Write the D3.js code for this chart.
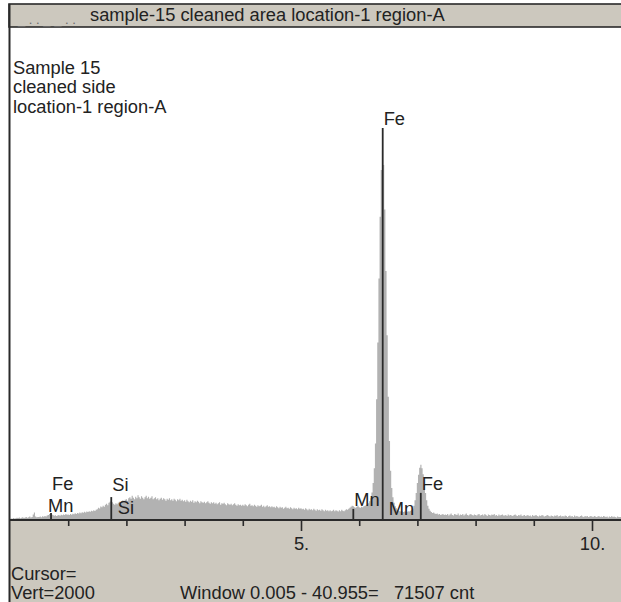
<!DOCTYPE html>
<html>
<head>
<meta charset="utf-8">
<script src="https://cdn.jsdelivr.net/npm/d3@7"></script>
<style>
  body { margin: 0; background: #fff; }
  svg { display: block; font-family: "Liberation Sans", Arial, sans-serif; }
</style>
</head>
<body>
<svg width="621" height="602"></svg>
<script>
// spectrum, counts per 0.02 keV channel starting at 0 keV
const channelWidth = 0.02;
const counts = [
  4,6,5,8,6,7,9,8,10,7,9,11,8,10,12,9,11,14,10,12,22,30,14,11,12,
  12,14,11,15,13,16,14,18,20,24,26,22,20,17,19,16,18,20,17,21,19,22,20,24,21,
  22,20,24,21,25,23,27,24,28,26,30,27,31,29,33,30,34,32,36,33,38,35,40,37,42,
  44,50,47,55,52,58,54,62,66,60,70,74,78,72,66,62,68,64,70,74,68,76,80,74,82,
  84,78,88,92,86,98,90,84,94,88,100,92,86,96,90,84,92,98,88,94,86,90,96,84,88,
  92,84,88,80,86,90,82,88,84,78,86,82,88,80,84,78,86,82,76,84,80,86,78,82,76,
  80,74,82,76,72,78,74,80,70,76,72,78,74,68,76,72,70,74,68,72,76,70,66,72,68,
  72,66,70,64,68,72,62,68,66,70,64,60,68,64,62,66,60,64,68,62,58,64,60,62,58,
  62,58,64,60,56,62,66,58,60,56,62,58,54,60,56,58,62,54,58,52,56,60,54,56,52,
  56,52,54,50,56,52,48,54,50,52,46,50,54,48,50,46,52,48,44,50,46,48,44,50,46,
  48,44,46,42,48,44,40,46,42,44,40,46,42,38,44,40,42,38,44,40,36,42,38,40,36,
  40,36,38,42,36,40,38,34,40,36,42,38,36,40,44,42,46,50,54,58,56,52,50,54,58,
  52,50,54,52,56,58,60,64,68,76,88,112,150,210,310,490,720,980,1230,1420,1500,1440,1260,1010,750,
  500,320,200,130,92,70,56,48,42,38,36,34,36,32,34,34,32,36,34,38,40,46,58,80,110,
  150,184,212,224,210,186,146,110,80,58,46,38,32,28,30,26,24,26,22,24,20,22,24,20,22,
  20,24,18,22,26,20,18,24,22,20,26,18,22,20,24,18,22,26,20,18,22,24,20,18,22,
  20,18,22,24,18,20,22,18,24,20,16,22,20,18,22,20,24,18,20,16,22,18,20,22,18,
  18,20,16,22,18,20,18,16,20,22,18,16,20,18,22,16,18,20,16,18,20,16,18,14,20,
  16,18,20,16,14,18,16,20,18,14,16,18,20,16,14,18,16,14,18,16,20,14,16,18,14,
  16,14,18,16,12,16,18,14,16,12,18,14,16,14,12,16,18,14,12,16,14,16,12,14,16,
  14,12,16,14,12,14,16,12,14,12,16,14,12,14,10,14,12,16,12,14,12,10,14,12,12,
  12
];

// element markers
const markerLabels   = ['Fe', 'Mn', 'Si', 'Si', 'Mn', 'Fe', 'Mn', 'Fe'];
const markerEnergies = [0.705, 0.637, 1.740, 1.836, 5.899, 6.404, 6.490, 7.058];
const markerCounts   = [28, 0, 93, 0, 45, 1590, 0, 110];
const labelCounts    = [150, 61, 146, 53, 85, 1630, 45, 150];

const minorTicks = [1, 2, 3, 4, 6, 7, 8, 9];
const majorTicks = [5, 10];
const majorLabels = ['5.', '10.'];

const titleText = 'sample-15 cleaned area location-1 region-A';
const noteLines = ['Sample 15', 'cleaned side', 'location-1 region-A'];
const footerLines = ['Cursor=', 'Vert=2000'];
const windowText = 'Window 0.005 - 40.955=   71507 cnt';
const vertScale = 2000;

const W = 621, H = 602;
const plotLeft = 10, plotTop = 27, axisY = 520;
const panel = '#ccc8be', ink = '#2a2a2a', txt = '#222';
const fs = '18.3px';

const svg = d3.select('svg');

const x = d3.scaleLinear().domain([0, 10]).range([plotLeft, 592]);
const y = d3.scaleLinear().domain([0, vertScale]).range([axisY, plotTop]);

const spectrum = counts.map((c, i) => ({ e: i * channelWidth, c: c }));

// title bar
svg.append('rect').attr('x', plotLeft - 1).attr('y', 4).attr('width', W).attr('height', plotTop - 4)
  .attr('fill', panel).attr('stroke', ink).attr('stroke-width', 1.6);
svg.append('text').attr('x', 18).attr('y', 24).attr('fill', '#6a6a6a').style('font-size', '13px')
  .text('_ . . _ _ . .');
svg.append('text').attr('x', 90).attr('y', 21).attr('fill', txt).style('font-size', fs)
  .text(titleText);

// bottom panel
svg.append('rect').attr('x', plotLeft).attr('y', axisY).attr('width', W).attr('height', H - axisY)
  .attr('fill', panel);

// spectrum fill
const area = d3.area()
  .x(d => x(d.e))
  .y0(axisY)
  .y1(d => y(d.c))
  .curve(d3.curveStep);

svg.append('clipPath').attr('id', 'plot').append('rect')
  .attr('x', plotLeft).attr('y', plotTop).attr('width', W - plotLeft).attr('height', axisY - plotTop);

svg.append('path')
  .datum(spectrum)
  .attr('d', area)
  .attr('fill', '#b2b2b2')
  .attr('clip-path', 'url(#plot)');

// marker lines and labels
const markers = markerLabels.map((l, i) => ({
  label: l, e: markerEnergies[i], c: markerCounts[i], lc: labelCounts[i]
}));

svg.selectAll('line.marker')
  .data(markers.filter(d => d.c > 0))
  .enter().append('line')
  .attr('class', 'marker')
  .attr('x1', d => x(d.e)).attr('x2', d => x(d.e))
  .attr('y1', d => y(d.c)).attr('y2', axisY)
  .attr('stroke', ink).attr('stroke-width', 1.8);

svg.selectAll('text.marker')
  .data(markers)
  .enter().append('text')
  .attr('class', 'marker')
  .attr('x', d => x(d.e) + 1)
  .attr('y', d => y(d.lc))
  .attr('dy', '0.36em')
  .attr('fill', txt)
  .style('font-size', fs)
  .text(d => d.label);

// axis
svg.append('g')
  .attr('transform', `translate(0,${axisY})`)
  .call(d3.axisBottom(x).tickValues(minorTicks).tickSize(6).tickFormat(''))
  .call(g => g.select('.domain').remove())
  .call(g => g.selectAll('line').attr('stroke', ink).attr('stroke-width', 1.6));

svg.append('g')
  .attr('transform', `translate(0,${axisY})`)
  .call(d3.axisBottom(x).tickValues(majorTicks).tickSize(11).tickPadding(6)
    .tickFormat((d, i) => majorLabels[i]))
  .call(g => g.select('.domain').remove())
  .call(g => g.selectAll('line').attr('stroke', ink).attr('stroke-width', 1.6))
  .call(g => g.selectAll('text').attr('fill', txt)
    .style('font-size', fs).style('font-family', '"Liberation Sans", Arial, sans-serif'));

svg.append('line')
  .attr('x1', plotLeft).attr('x2', W).attr('y1', axisY).attr('y2', axisY)
  .attr('stroke', ink).attr('stroke-width', 2);

// left frame
svg.append('line')
  .attr('x1', plotLeft - 0.5).attr('x2', plotLeft - 0.5).attr('y1', 4).attr('y2', H)
  .attr('stroke', ink).attr('stroke-width', 2);

// notes in plot
svg.selectAll('text.note')
  .data(noteLines)
  .enter().append('text')
  .attr('class', 'note')
  .attr('x', 13)
  .attr('y', (d, i) => 67 + i * 19.5)
  .attr('dy', '0.36em')
  .attr('fill', txt)
  .style('font-size', fs)
  .text(d => d);

// footer
svg.selectAll('text.footer')
  .data(footerLines)
  .enter().append('text')
  .attr('class', 'footer')
  .attr('x', 11)
  .attr('y', (d, i) => 573 + i * 19.5)
  .attr('dy', '0.36em')
  .attr('fill', txt)
  .style('font-size', fs)
  .text(d => d);

svg.append('text')
  .attr('x', 180).attr('y', 592.5).attr('dy', '0.36em')
  .attr('fill', txt)
  .style('font-size', fs)
  .style('white-space', 'pre')
  .text(windowText);
</script>
</body>
</html>
